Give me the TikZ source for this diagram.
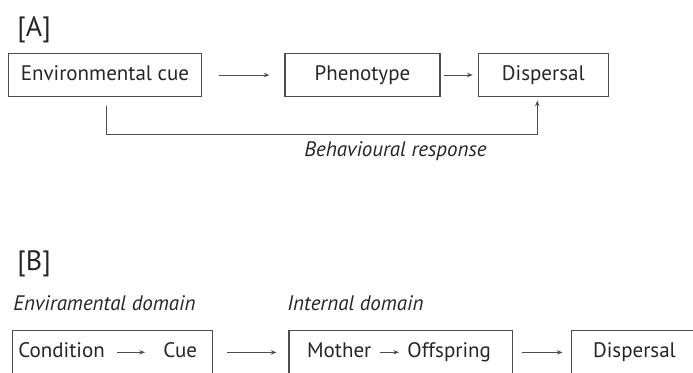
\documentclass[tikz,border=0pt]{standalone}
\usepackage{fontspec}
\setmainfont{PT Sans}
\usetikzlibrary{arrows.meta}
\definecolor{inkgray}{HTML}{262626}
\definecolor{linegray}{HTML}{4D4D4D}
\newcommand{\bodysize}{\fontsize{10.5}{12.6}\selectfont}
\tikzset{
  box/.style={draw=linegray, line width=0.6pt, minimum height=21.7pt, inner sep=0pt,
    text=inkgray, text height=0.75em, text depth=0.25em},
  word/.style={inner sep=0pt, anchor=base west, text=inkgray, text height=0.75em, text depth=0.25em},
  note/.style={inner sep=0pt, anchor=base west, text=inkgray, font=\bodysize\itshape},
  tag/.style={inner sep=0pt, anchor=base west, text=inkgray, font=\fontsize{14}{16.8}\selectfont},
  flow/.style={draw=linegray, line width=0.5pt, -{Stealth[length=2.8pt, width=2.2pt]}}
}
\begin{document}
\begin{tikzpicture}[x=0.5pt, y=-0.5pt, font=\bodysize]
\useasboundingbox (0,0) rectangle (693,372);
\clip (0,0) rectangle (693,372);
% part A
\node[tag] (tagA) at (17,36) {[A]};
\node[box, minimum width=96.7pt] (env) at (105,75) {Environmental cue};
\node[box, minimum width=77.5pt] (phen) at (362.5,75) {Phenotype};
\node[box, minimum width=65pt] (disA) at (543.3,75) {Dispersal};
\node[note, anchor=base] (resp) at (395.5,156) {Behavioural response};
\draw[flow, shorten <=8.3pt, shorten >=7.5pt] (env) -- (phen);
\draw[flow, shorten <=1.6pt, shorten >=2.5pt] (phen) -- (disA);
\draw[flow] ([xshift=1pt, yshift=-4.2pt]env.south) -- ++(0,29) -| ([xshift=-3pt, yshift=-1.6pt]disA.south);
% part B
\node[tag] (tagB) at (17,270) {[B]};
\node[note] (envdom) at (13,310) {Enviramental domain};
\node[note] (intdom) at (287,310) {Internal domain};
\node[box, minimum width=99.9pt] (envB) at (112.6,352.4) {};
\node[box, minimum width=111.85pt] (intB) at (400.85,352.4) {};
\node[box, minimum width=74pt] (disB) at (645.8,352.4) {};
\node[word] (cond) at (18,357.3) {Condition};
\node[word] (cue) at (163,357.3) {Cue};
\node[word] (moth) at (306.7,357.3) {Mother};
\node[word] (offs) at (407,357.3) {Offspring};
\node[word] (disp) at (592.7,357.3) {Dispersal};
\draw[flow, shorten <=6pt, shorten >=9pt] (cond) -- (cue);
\draw[flow, shorten <=4pt, shorten >=4pt] (moth) -- (offs);
\draw[flow, shorten <=6.75pt, shorten >=6pt] (envB) -- (intB);
\draw[flow, shorten <=4.15pt, shorten >=4.35pt] (intB) -- (disB);
\end{tikzpicture}
\end{document}
